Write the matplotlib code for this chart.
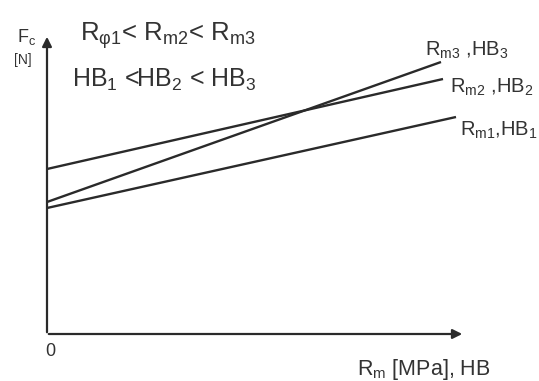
import matplotlib
matplotlib.use("Agg")
import matplotlib.pyplot as plt

# chart units: origin at the axes corner, 1 unit ~ 1 pixel
labels = [r"R$_{\mathrm{m1}}$,HB$_1$", r"R$_{\mathrm{m2}}$ ,HB$_2$", r"R$_{\mathrm{m3}}$ ,HB$_3$"]
x_start = [0, 0, 0]
x_end = [409, 396, 394]
fc_start = [126, 165, 132]
fc_end = [217, 255, 272]

plt.rcParams["font.family"] = "Liberation Sans"
plt.rcParams["mathtext.fontset"] = "custom"
plt.rcParams["mathtext.rm"] = "Liberation Sans"
plt.rcParams["mathtext.it"] = "Liberation Sans:italic"

fig = plt.figure(figsize=(5.39, 3.81), dpi=100)
ax = fig.add_axes([0, 0, 1, 1])
ax.set_xlim(-47, 492)
ax.set_ylim(-47, 334)
ax.axis("off")

ink = "#2a2a2a"
txt = "#333333"

# axes with arrows
ax.annotate("", xy=(418, 0), xytext=(-1, 0),
            arrowprops=dict(arrowstyle="-|>", color=ink, lw=1.6, mutation_scale=14))
ax.annotate("", xy=(0, 300), xytext=(0, -1),
            arrowprops=dict(arrowstyle="-|>", color=ink, lw=1.6, mutation_scale=14))

for xs, xe, ys, ye in zip(x_start, x_end, fc_start, fc_end):
    ax.plot([xs, xe], [ys, ye], color=ink, lw=1.7, solid_capstyle="butt")

label_pos = [(413, 204), (403, 247), (378, 284)]
for lab, (lx, ly) in zip(labels, label_pos):
    ax.text(lx, ly, lab, fontsize=14.5, color=txt, va="center", ha="left")

ax.text(-30, 297, r"F$_{\mathrm{c}}$", fontsize=13, color=txt, ha="left", va="center")
ax.text(-33, 274, "[N]", fontsize=10, color=txt, ha="left", va="center")
ax.text(33, 298, r"R$_{\mathrm{φ1}}$< R$_{\mathrm{m2}}$< R$_{\mathrm{m3}}$", fontsize=18.5,
        color=txt, ha="left", va="center")
ax.text(25, 254, r"HB$_1$ <HB$_2$ < HB$_3$", fontsize=18,
        color=txt, ha="left", va="center")
ax.text(3, -18, "0", fontsize=13, color=txt, ha="center", va="center")
ax.text(310, -36, r"R$_{\mathrm{m}}$ [MPa], HB", fontsize=15.5, color=txt,
        ha="left", va="center")

fig.savefig("out.png", dpi=100)
